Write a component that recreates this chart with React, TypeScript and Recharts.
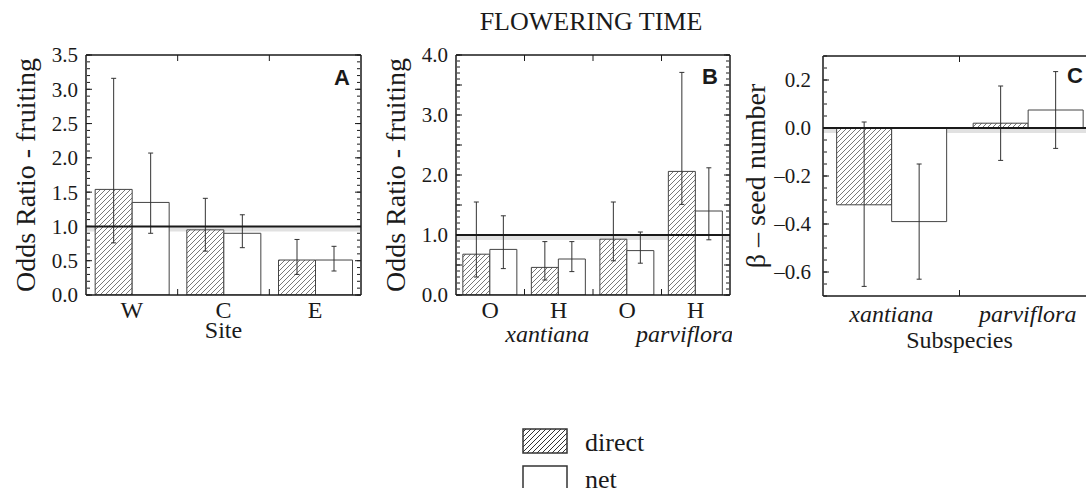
import React from "react";
import {
  BarChart,
  Bar,
  XAxis,
  YAxis,
  ErrorBar,
  ReferenceLine,
  ReferenceArea,
} from "recharts";

const SERIF = "'Liberation Serif', 'Times New Roman', serif";
const SANS = "'Liberation Sans', Arial, sans-serif";
const INK = "#1a1a1a";
const THIN = 1; // helper axes only carry tick marks
const blank = () => "";

// Panel A – odds ratio of fruiting by site
const sitesA = ["W", "C", "E"];
const directA = [1.54, 0.95, 0.51];
const directLowA = [0.76, 0.64, 0.3];
const directHighA = [3.16, 1.41, 0.81];
const netA = [1.35, 0.9, 0.51];
const netLowA = [0.9, 0.69, 0.35];
const netHighA = [2.07, 1.17, 0.71];
const ticksA = [0, 0.5, 1, 1.5, 2, 2.5, 3, 3.5];

// Panel B – odds ratio of fruiting by population type and subspecies
const popsB = ["O", "H", "O", "H"];
const subspB = ["xantiana", "parviflora"];
const directB = [0.68, 0.46, 0.93, 2.06];
const directLowB = [0.3, 0.25, 0.57, 1.51];
const directHighB = [1.55, 0.89, 1.55, 3.71];
const netB = [0.76, 0.6, 0.74, 1.4];
const netLowB = [0.44, 0.39, 0.53, 0.92];
const netHighB = [1.32, 0.89, 1.05, 2.12];
const ticksB = [0, 1, 2, 3, 4];

// Panel C – beta for seed number by subspecies
const subspC = ["xantiana", "parviflora"];
const directC = [-0.32, 0.02];
const directLowC = [-0.66, -0.135];
const directHighC = [0.025, 0.175];
const netC = [-0.39, 0.075];
const netLowC = [-0.63, -0.085];
const netHighC = [-0.15, 0.235];
const ticksC = [-0.6, -0.4, -0.2, 0, 0.2];

const legendItems = ["direct", "net"];

const range = (a: number, b: number, step: number) => {
  const out: number[] = [];
  for (let v = a; v <= b + 1e-9; v += step) out.push(Math.round(v * 1000) / 1000);
  return out;
};

function buildRows(
  cats: string[],
  d: number[],
  dLo: number[],
  dHi: number[],
  n: number[],
  nLo: number[],
  nHi: number[]
) {
  return cats.map((cat, i) => ({
    cat,
    direct: d[i],
    directErr: [d[i] - dLo[i], dHi[i] - d[i]],
    net: n[i],
    netErr: [n[i] - nLo[i], nHi[i] - n[i]],
  }));
}

const fmt = (v: number) => (v < 0 ? `–${Math.abs(v).toFixed(1)}` : Number(v).toFixed(1));

// eslint-disable-next-line @typescript-eslint/no-explicit-any
const yLabel = (text: string, dx: number) => (props: any) => {
  const vb = props.viewBox;
  const cx = vb.x + dx;
  const cy = vb.y + vb.height / 2;
  return (
    <text
      x={cx}
      y={cy}
      transform={`rotate(-90 ${cx} ${cy})`}
      textAnchor="middle"
      dominantBaseline="central"
      fill={INK}
      fontSize={28}
      fontFamily={SERIF}
    >
      {text}
    </text>
  );
};

function Hatch({ id, color = "#555", w = 0.8 }: { id: string; color?: string; w?: number }) {
  return (
    <pattern id={id} patternUnits="userSpaceOnUse" width={5} height={5}>
      <rect width={5} height={5} fill="#fff" />
      <path
        d="M0,5 L5,0 M-1.25,1.25 L1.25,-1.25 M3.75,6.25 L6.25,3.75"
        stroke={color}
        strokeWidth={w}
      />
    </pattern>
  );
}

// plot frames (page pixels): top edge and the inward marks between categories
const frames = [
  { left: 86, right: 361, top: 55, bottom: 295, n: sitesA.length },
  { left: 456, right: 730, top: 55, bottom: 295, n: popsB.length },
  { left: 823, right: 1096, top: 56, bottom: 296, n: subspC.length },
];

interface PanelProps {
  id: string;
  // eslint-disable-next-line @typescript-eslint/no-explicit-any
  rows: any[];
  width: number;
  height: number;
  margin: { top: number; right: number; bottom: number; left: number };
  domain: [number, number];
  labelTicks: number[];
  majorTicks: number[];
  minorTicks: number[];
  refY: number;
  yLabelText: string;
  yAxisWidth: number;
  yTickMargin: number;
  catHeight: number;
  catTickMargin: number;
  catItalic?: boolean;
  groups?: string[];
  xLabel?: string;
  xLabelOffset?: number;
  rightBorder?: boolean;
}

function Panel(p: PanelProps) {
  const n = p.rows.length;
  const plotH = p.height - p.margin.top - p.margin.bottom - p.catHeight - (p.groups ? 23 : 0);
  const shadow = (5 * (p.domain[1] - p.domain[0])) / plotH;
  const tickFont = { fill: INK, fontSize: 21, fontFamily: SERIF };
  const catFont = {
    fill: INK,
    fontSize: 24,
    fontFamily: SERIF,
    fontStyle: p.catItalic ? "italic" : "normal",
  };
  const border = { stroke: INK, strokeWidth: 1.5 };
  const tl = { stroke: INK, strokeWidth: 1 };
  return (
    <BarChart
      width={p.width}
      height={p.height}
      data={p.rows}
      margin={p.margin}
      barCategoryGap="10%"
      barGap={0}
    >
      <defs>
        <Hatch id={`hatch-${p.id}`} />
      </defs>
      <XAxis
        xAxisId="cat"
        dataKey="cat"
        height={p.catHeight}
        interval={0}
        tickSize={0}
        tickMargin={p.catTickMargin}
        tickLine={false}
        axisLine={border}
        tick={catFont}
        label={
          p.xLabel
            ? {
                value: p.xLabel,
                position: "insideBottom",
                offset: p.xLabelOffset ?? 2,
                fill: INK,
                fontSize: 24,
                fontFamily: SERIF,
              }
            : undefined
        }
      />
      {p.groups && (
        <XAxis
          xAxisId="grp"
          type="number"
          domain={[0, n]}
          allowDataOverflow
          ticks={[1, 3]}
          tickFormatter={(v: number) => p.groups![(v - 1) / 2]}
          height={23}
          tickSize={0}
          tickMargin={6}
          tickLine={false}
          axisLine={false}
          tick={{ ...catFont, fontStyle: "italic" }}
        />
      )}
      <YAxis
        yAxisId="val"
        type="number"
        domain={p.domain}
        allowDataOverflow
        ticks={p.labelTicks}
        interval={0}
        tickFormatter={fmt}
        width={p.yAxisWidth}
        tickSize={0}
        tickMargin={p.yTickMargin}
        tickLine={false}
        axisLine={border}
        tick={tickFont}
        label={{ content: yLabel(p.yLabelText, 25) }}
      />
      <YAxis
        yAxisId="minL"
        type="number"
        mirror
        width={THIN}
        domain={p.domain}
        allowDataOverflow
        ticks={p.minorTicks}
        interval={0}
        tickFormatter={blank}
        axisLine={false}
        tickSize={3}
        tickLine={tl}
      />
      <YAxis
        yAxisId="majL"
        type="number"
        mirror
        width={THIN}
        domain={p.domain}
        allowDataOverflow
        ticks={p.majorTicks}
        interval={0}
        tickFormatter={blank}
        axisLine={false}
        tickSize={6}
        tickLine={tl}
      />
      {p.rightBorder && (
        <YAxis
          yAxisId="minR"
          type="number"
          orientation="right"
          mirror
          width={THIN}
          domain={p.domain}
          allowDataOverflow
          ticks={p.minorTicks}
          interval={0}
          tickFormatter={blank}
          axisLine={false}
          tickSize={3}
          tickLine={tl}
        />
      )}
      {p.rightBorder && (
        <YAxis
          yAxisId="majR"
          type="number"
          orientation="right"
          mirror
          width={THIN}
          domain={p.domain}
          allowDataOverflow
          ticks={p.majorTicks}
          interval={0}
          tickFormatter={blank}
          axisLine={border}
          tickSize={6}
          tickLine={tl}
        />
      )}
      <Bar
        xAxisId="cat"
        yAxisId="val"
        dataKey="direct"
        fill={`url(#hatch-${p.id})`}
        stroke="#444"
        strokeWidth={1}
        isAnimationActive={false}
      >
        <ErrorBar dataKey="directErr" width={2.5} stroke="#333" strokeWidth={1} />
      </Bar>
      <Bar
        xAxisId="cat"
        yAxisId="val"
        dataKey="net"
        fill="#fff"
        stroke="#444"
        strokeWidth={1}
        isAnimationActive={false}
      >
        <ErrorBar dataKey="netErr" width={2.5} stroke="#333" strokeWidth={1} />
      </Bar>
      <ReferenceArea
        xAxisId="cat"
        yAxisId="val"
        y1={p.refY - shadow}
        y2={p.refY}
        fill="#888"
        fillOpacity={0.25}
        stroke="none"
      />
      <ReferenceLine xAxisId="cat" yAxisId="val" y={p.refY} stroke={INK} strokeWidth={2} />
    </BarChart>
  );
}

export default function App() {
  const rowsA = buildRows(sitesA, directA, directLowA, directHighA, netA, netLowA, netHighA);
  const rowsB = buildRows(popsB, directB, directLowB, directHighB, netB, netLowB, netHighB);
  const rowsC = buildRows(subspC, directC, directLowC, directHighC, netC, netLowC, netHighC);

  return (
    <div
      style={{
        position: "absolute",
        left: 0,
        top: 0,
        width: 1086,
        height: 488,
        overflow: "hidden",
        background: "#fff",
      }}
    >
      <div style={{ position: "absolute", left: 0, top: 0 }}>
        <Panel
          id="a"
          rows={rowsA}
          width={370}
          height={352}
          margin={{ top: 55, right: 9, bottom: 10, left: 0 }}
          domain={[0, 3.5]}
          labelTicks={ticksA}
          majorTicks={range(0, 3.5, 0.5)}
          minorTicks={range(0, 3.5, 0.1)}
          refY={1}
          yLabelText="Odds Ratio - fruiting"
          yAxisWidth={86}
          yTickMargin={8}
          catHeight={47}
          catTickMargin={6}
          xLabel="Site"
          xLabelOffset={4}
          rightBorder
        />
      </div>
      <div style={{ position: "absolute", left: 370, top: 0 }}>
        <Panel
          id="b"
          rows={rowsB}
          width={362}
          height={352}
          margin={{ top: 55, right: 2, bottom: 10, left: 0 }}
          domain={[0, 4]}
          labelTicks={ticksB}
          majorTicks={range(0, 4, 0.5)}
          minorTicks={range(0, 4, 0.1)}
          refY={1}
          yLabelText="Odds Ratio - fruiting"
          yAxisWidth={86}
          yTickMargin={8}
          catHeight={24}
          catTickMargin={6}
          groups={subspB}
          rightBorder
        />
      </div>
      <div style={{ position: "absolute", left: 730, top: 0 }}>
        <Panel
          id="c"
          rows={rowsC}
          width={366}
          height={360}
          margin={{ top: 56, right: 0, bottom: 10, left: 0 }}
          domain={[-0.7, 0.3]}
          labelTicks={ticksC}
          majorTicks={ticksC}
          minorTicks={range(-0.7, 0.3, 0.05)}
          refY={0}
          yLabelText="β – seed number"
          yAxisWidth={93}
          yTickMargin={12}
          catHeight={54}
          catTickMargin={9}
          catItalic
          xLabel="Subspecies"
          xLabelOffset={2}
        />
      </div>
      <svg
        width={1086}
        height={488}
        style={{ position: "absolute", left: 0, top: 0, pointerEvents: "none" }}
      >
        <defs>
          <Hatch id="hatch-legend" color="#333" w={1} />
        </defs>
        {frames.map((f, i) => {
          const band = (f.right - f.left) / f.n;
          const cuts = Array.from({ length: f.n - 1 }, (_, k) => f.left + band * (k + 1));
          return (
            <g key={i} stroke={INK} fill="none">
              <line x1={f.left} x2={f.right} y1={f.top} y2={f.top} strokeWidth={1.5} />
              {cuts.map((cx) => (
                <path
                  key={cx}
                  d={`M${cx},${f.top} L${cx},${f.top + 6} M${cx},${f.bottom} L${cx},${f.bottom - 6}`}
                  strokeWidth={1}
                />
              ))}
            </g>
          );
        })}
        <text x={591} y={30} textAnchor="middle" fill={INK} fontSize={26} fontFamily={SERIF}>
          FLOWERING TIME
        </text>
        <text x={350} y={85} textAnchor="end" fill={INK} fontSize={22} fontWeight="bold" fontFamily={SANS}>
          A
        </text>
        <text x={718} y={84} textAnchor="end" fill={INK} fontSize={22} fontWeight="bold" fontFamily={SANS}>
          B
        </text>
        <text x={1083} y={83} textAnchor="end" fill={INK} fontSize={22} fontWeight="bold" fontFamily={SANS}>
          C
        </text>
        {legendItems.map((name, i) => (
          <g key={name}>
            <rect
              x={523}
              y={429 + i * 37}
              width={44}
              height={24}
              fill={i === 0 ? "url(#hatch-legend)" : "#fff"}
              stroke="#333"
              strokeWidth={1.5}
            />
            <text x={585} y={451 + i * 37} fill={INK} fontSize={26} fontFamily={SERIF}>
              {name}
            </text>
          </g>
        ))}
      </svg>
    </div>
  );
}
